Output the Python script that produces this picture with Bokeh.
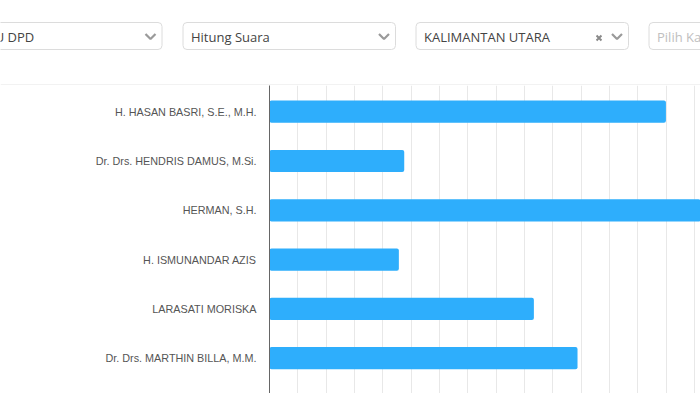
from bokeh.plotting import figure
from bokeh.layouts import column
from bokeh.models import Range1d, FixedTicker, SingleIntervalTicker, ColumnDataSource
from bokeh.core.properties import value
from bokeh.embed import file_html
from bokeh.resources import INLINE

# ---- data ----
candidates = [
    "H. HASAN BASRI, S.E., M.H.",
    "Dr. Drs. HENDRIS DAMUS, M.Si.",
    "HERMAN, S.H.",
    "H. ISMUNANDAR AZIS",
    "LARASATI MORISKA",
    "Dr. Drs. MARTHIN BILLA, M.M.",
]
votes = [139900, 47550, 171000, 45650, 93300, 108700]

# filter bar (page header) texts
filter_texts = ["PEMILU DPD", "Hitung Suara", "KALIMANTAN UTARA"]
placeholder_text = "Pilih Ka"

W = 700
HEADER_H = 85
CHART_H = 393 - HEADER_H
BAR_COLOR = "#2eaefc"

# ---- header with dropdowns ----
hdr = figure(width=W, height=HEADER_H, x_range=Range1d(0, W), y_range=Range1d(HEADER_H, 0),
             toolbar_location=None, output_backend="svg",
             min_border=0, min_border_left=0, min_border_right=0,
             min_border_top=0, min_border_bottom=0, frame_align=False)
hdr.axis.visible = False
hdr.grid.visible = False
hdr.outline_line_color = None
hdr.background_fill_color = "white"
hdr.border_fill_color = "white"

box_lefts = [-51, 182.5, 415.5, 648.5]
box_w = 212.5
hdr.quad(left=box_lefts, right=[b + box_w for b in box_lefts],
         top=[22] * 4, bottom=[49] * 4,
         fill_color="white", line_color="#dcdcdc", line_width=1, border_radius=4)

hdr.text(x=[b + 8 for b in box_lefts[:3]], y=[36.5] * 3, text=filter_texts,
         text_font=value("Open Sans"), text_font_size="13px", text_color="#444444",
         text_baseline="middle", text_align="left")
hdr.text(x=[box_lefts[3] + 8], y=[36.5], text=[placeholder_text],
         text_font=value("Open Sans"), text_font_size="13px", text_color="#c0c0c0",
         text_baseline="middle", text_align="left")

# chevrons
chev_x = [b + 201 for b in box_lefts[:3]]
xs = [[c - 5, c, c + 5] for c in chev_x]
ys = [[33.5, 38.5, 33.5] for _ in chev_x]
hdr.multi_line(xs=xs, ys=ys, line_color="#9a9a9a", line_width=2.2)
# clear "x" in third box
hdr.scatter(x=[box_lefts[2] + 183], y=[37.5], marker="x", size=7,
            line_color="#8a8a8a", line_width=2)
# separator line
hdr.segment(x0=[0], y0=[84.5], x1=[W], y1=[84.5], line_color="#e4e4e4", line_width=1)

# ---- bar chart ----
n = len(candidates)
ys_pos = list(range(n))
src = ColumnDataSource(dict(y=ys_pos, v=votes, name=candidates))

p = figure(width=W, height=CHART_H,
           x_range=Range1d(0, 152100), y_range=Range1d(5.716, -0.531),
           toolbar_location=None, output_backend="svg",
           min_border_left=269, min_border_right=0, min_border_top=0, min_border_bottom=0,
           frame_align=False)
p.hbar(y="y", right="v", left=0, height=0.45, source=src,
       fill_color=BAR_COLOR, line_color=None, border_radius=2)

p.xaxis.visible = False
p.xgrid.ticker = SingleIntervalTicker(interval=10000)
p.xgrid.grid_line_color = "#e8e8e8"
p.ygrid.visible = False
p.outline_line_color = None
p.background_fill_color = "white"
p.border_fill_color = "white"

ya = p.yaxis[0]
ya.ticker = FixedTicker(ticks=ys_pos)
ya.major_label_overrides = {i: c for i, c in enumerate(candidates)}
ya.major_tick_line_color = None
ya.minor_tick_line_color = None
ya.axis_line_color = "#666666"
ya.axis_line_width = 1
ya.major_label_standoff = 7
ya.major_label_text_font = "Liberation Sans"
ya.major_label_text_font_size = "10.8px"
ya.major_label_text_color = "#555555"

layout = column(hdr, p, spacing=0)
open("out.html", "w").write(file_html(layout, INLINE))
